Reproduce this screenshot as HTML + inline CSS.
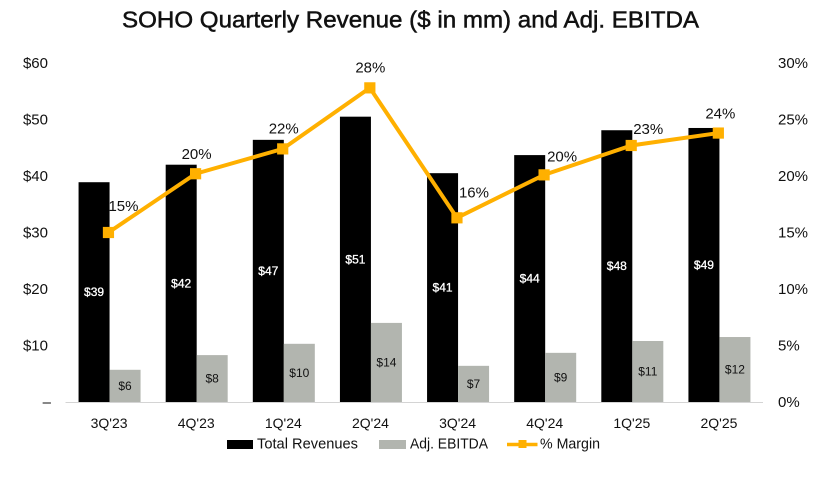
<!DOCTYPE html>
<html lang="en">
<head>
<meta charset="utf-8">
<title>SOHO Quarterly Revenue and Adj. EBITDA</title>
<style>
html,body{margin:0;padding:0;background:#fff;width:831px;height:479px;overflow:hidden}
svg{display:block;font-family:"Liberation Sans",sans-serif}
text{fill:#111}
</style>
</head>
<body>
<svg id="chart" width="831" height="479" viewBox="0 0 831 479" xmlns="http://www.w3.org/2000/svg">
  <rect width="831" height="479" fill="#fff"/>
  <text x="122" y="27.500" font-size="23" stroke="#111" stroke-width="0.5" textLength="577" lengthAdjust="spacingAndGlyphs">SOHO Quarterly Revenue ($ in mm) and Adj. EBITDA</text>
  <g id="legend">
    <rect x="227" y="440" width="26" height="9" fill="#000"/>
    <text x="257" y="448.500" font-size="15" textLength="101" lengthAdjust="spacingAndGlyphs">Total Revenues</text>
    <rect x="379" y="440" width="27" height="9" fill="#b2b5af"/>
    <text x="410" y="448.500" font-size="15" textLength="78" lengthAdjust="spacingAndGlyphs">Adj. EBITDA</text>
    <line x1="507" x2="537.500" y1="444.500" y2="444.500" stroke="#ffb000" stroke-width="3.500"/>
    <rect x="518.500" y="440" width="8" height="8" fill="#ffb000"/>
    <text x="540" y="448.500" font-size="15" textLength="60" lengthAdjust="spacingAndGlyphs">% Margin</text>
  </g>
</svg>
<script>
const categories = ["3Q'23","4Q'23","1Q'24","2Q'24","3Q'24","4Q'24","1Q'25","2Q'25"];
const revenueValues = [38.9,42.0,46.4,50.5,40.5,43.7,48.1,48.5];
const ebitdaValues = [5.7,8.3,10.3,14.0,6.4,8.7,10.8,11.5];
const marginValues = [15.0,20.2,22.4,27.8,16.3,20.1,22.7,23.8];
const revenueLabels = ["$39","$42","$47","$51","$41","$44","$48","$49"];
const ebitdaLabels = ["$6","$8","$10","$14","$7","$9","$11","$12"];
const marginLabels = ["15%","20%","22%","28%","16%","20%","23%","24%"];
const leftTicks = [0,10,20,30,40,50,60];
const leftTickLabels = ["–","$10","$20","$30","$40","$50","$60"];
const rightTicks = [0,5,10,15,20,25,30];
const rightTickLabels = ["0%","5%","10%","15%","20%","25%","30%"];

const plotLeft = 66, plotRight = 763, plotBottom = 402, plotTop = 63, barWidth = 31, markerOffset = -1.1;
const labelShiftX = [15,1,1,0.5,17,18,17,2];
const labelShiftY = [-26,-19,-20,-20,-25,-18,-16,-19];

function xCenter(i){ return plotLeft + (plotRight - plotLeft) * (i + 0.5) / categories.length; }
function xMarker(i){ return xCenter(i) + markerOffset; }
function yLeft(v){ return plotBottom - (plotBottom - plotTop) * v / 60; }
function yRight(v){ return plotBottom - (plotBottom - plotTop) * v / 30; }

const svg = document.getElementById('chart');
const legend = document.getElementById('legend');
function make(tag, attrs, text){
  const el = document.createElementNS('http://www.w3.org/2000/svg', tag);
  for (const k in attrs) el.setAttribute(k, attrs[k]);
  if (text !== undefined) el.textContent = text;
  svg.insertBefore(el, legend);
  return el;
}

categories.forEach(function(c, i){
  const cx = xCenter(i);
  const rev = make('rect', {x: cx - barWidth, y: yLeft(revenueValues[i]), width: barWidth, height: plotBottom - yLeft(revenueValues[i]), fill: '#000'});
  
  
  const eb = make('rect', {x: cx, y: yLeft(ebitdaValues[i]), width: barWidth, height: plotBottom - yLeft(ebitdaValues[i]), fill: '#b2b5af'});
  
  
});

const axis = make('line', {x1: plotLeft - 0.5, x2: plotRight, y1: plotBottom + 0.5, y2: plotBottom + 0.5, stroke: '#d4d4d4', 'stroke-width': 1});



leftTicks.forEach(function(v, i){
  const t = make('text', {x: i === 0 ? 51 : 48, y: yLeft(v) + 0.5, 'text-anchor': 'end', 'dominant-baseline': 'central', 'font-size': 15}, leftTickLabels[i]);
  
  
});
rightTicks.forEach(function(v, i){
  const t = make('text', {x: 778, y: yRight(v) + 0.5, 'dominant-baseline': 'central', 'font-size': 15}, rightTickLabels[i]);
  
  
});

categories.forEach(function(c, i){
  const t = make('text', {x: xCenter(i) - 0.5, y: 423, 'text-anchor': 'middle', 'dominant-baseline': 'central', 'font-size': 14}, c);
  
  
});

categories.forEach(function(c, i){
  const cx = xCenter(i);
  const a = make('text', {x: cx - barWidth / 2, y: (yLeft(revenueValues[i]) + plotBottom) / 2, 'text-anchor': 'middle', 'dominant-baseline': 'central', 'font-size': 12, style: 'fill:#fff', stroke: '#fff', 'stroke-width': 0.3}, revenueLabels[i]);
  
  
  const b = make('text', {x: cx + barWidth / 2, y: (yLeft(ebitdaValues[i]) + plotBottom) / 2, 'text-anchor': 'middle', 'dominant-baseline': 'central', 'font-size': 12}, ebitdaLabels[i]);
  
  
});

const line = make('polyline', {points: marginValues.map(function(v, i){ return xMarker(i) + ',' + yRight(v); }).join(' '), fill: 'none', stroke: '#ffb000', 'stroke-width': 4, 'stroke-linejoin': 'round'});



marginValues.forEach(function(v, i){
  const m = make('rect', {x: xMarker(i) - 5.6, y: yRight(v) - 5.6, width: 11.2, height: 11.2, fill: '#ffb000'});
  
  
  const t = make('text', {x: xMarker(i) + labelShiftX[i], y: yRight(v) + labelShiftY[i], 'text-anchor': 'middle', 'dominant-baseline': 'central', 'font-size': 15}, marginLabels[i]);
  
  
});
</script>
</body>
</html>
